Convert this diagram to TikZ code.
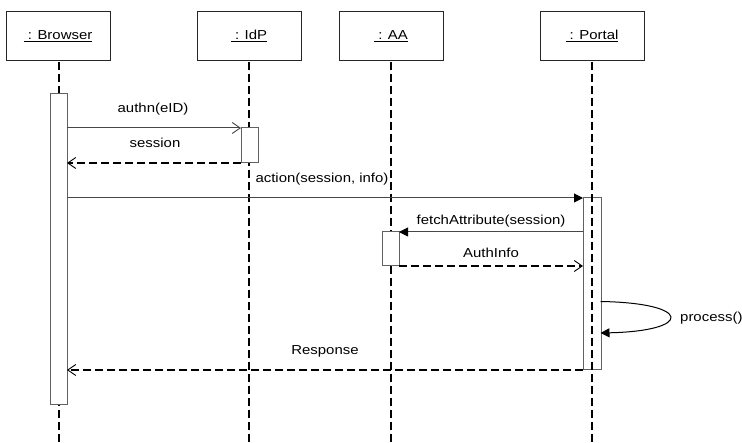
\documentclass[tikz,border=0pt]{standalone}
\usepackage{fontspec}
\setmainfont{Liberation Sans}[FakeStretch=1.15]
\usetikzlibrary{arrows.meta}
\begin{document}
\begin{tikzpicture}[x=1pt,y=-1pt,
  font=\fontsize{13}{15}\selectfont,
  obj/.style={draw=black!85, line width=0.9pt, minimum width=104pt, minimum height=49pt,
    inner sep=0pt, outer sep=0pt, text height=9pt, text depth=0pt},
  life/.style={line width=2pt, dash pattern=on 8pt off 4pt},
  act/.style={draw=black!62, fill=white, line width=1pt, inner sep=0pt, outer sep=0pt},
  call/.style={draw=black!72, line width=1pt, -{Triangle[length=9pt,width=9pt,color=black]}},
  callopen/.style={draw=black!72, line width=1pt, -{Straight Barb[length=8pt,width=11pt,line width=0.9pt]}},
  reply/.style={draw=black, line width=1.7pt, dash pattern=on 8pt off 4pt,
    -{Straight Barb[length=8pt,width=11pt,line width=0.9pt]}},
  lbl/.style={inner sep=0pt, anchor=base}]
\useasboundingbox (0,0) rectangle (742,443);
% objects
\node[obj] (browser) at (58,35.5) {\underline{\ : Browser}};
\node[obj] (idp) at (249,35.5) {\underline{\ : IdP}};
\node[obj] (aa) at (391,35.5) {\underline{\ : AA}};
\node[obj] (portal) at (592,35.5) {\underline{\ : Portal}};
% lifeline ends
\coordinate (bEnd) at (59,443);
\coordinate (iEnd) at (249,443);
\coordinate (aEnd) at (391,443);
\coordinate (pEnd) at (592,443);
\draw[life] (browser.south -| bEnd) ++(0,2) -- (bEnd);
\draw[life] (idp.south -| iEnd) ++(0,2) -- (iEnd);
\draw[life] (aa.south -| aEnd) ++(0,2) -- (aEnd);
% activations
\node[act, minimum width=17pt, minimum height=311pt, anchor=north] (bact) at (58.5,94) {};
\node[act, minimum width=17pt, minimum height=35pt, anchor=north] (iact) at (249.5,128) {};
\node[act, minimum width=17pt, minimum height=34pt, anchor=north] (aact) at (390.5,232) {};
\node[act, minimum width=18pt, minimum height=172pt, anchor=north] (pact) at (592,198) {};
\draw[life] (portal.south -| pEnd) ++(0,2) -- (pEnd);
% messages
\draw[callopen] (bact.east |- iact.north west) -- (iact.north west);
\node[lbl] (l1) at (153,113) {authn(eID)};
\draw[reply] (iact.south west) -- (bact.east |- iact.south west);
\node[lbl] (l2) at (155,148) {session};
\draw[call] (bact.east |- pact.north west) -- (pact.north west);
\node[lbl] (l3) at (322,182.5) {action(session, info)};
\draw[call] (pact.west |- aact.north east) -- (aact.north east);
\node[lbl] (l4) at (491,224.5) {fetchAttribute(session)};
\draw[callopen, dash pattern=on 8pt off 4pt, draw=black, line width=1.7pt] (aact.south east) -- (pact.west |- aact.south east);
\node[lbl] (l5) at (491,257.5) {AuthInfo};
\coordinate (pa) at (600.5,301.5);
\coordinate (pb) at (600.5,333);
\draw[call, draw=black] (pa) .. controls (693,303) and (693,331) .. (pb);
\node[lbl, anchor=base west] (l6) at (680,321.5) {process()};
\draw[reply] (pact.south west) -- (bact.east |- pact.south west);
\node[lbl] (l7) at (325,355) {Response};
\end{tikzpicture}
\end{document}
